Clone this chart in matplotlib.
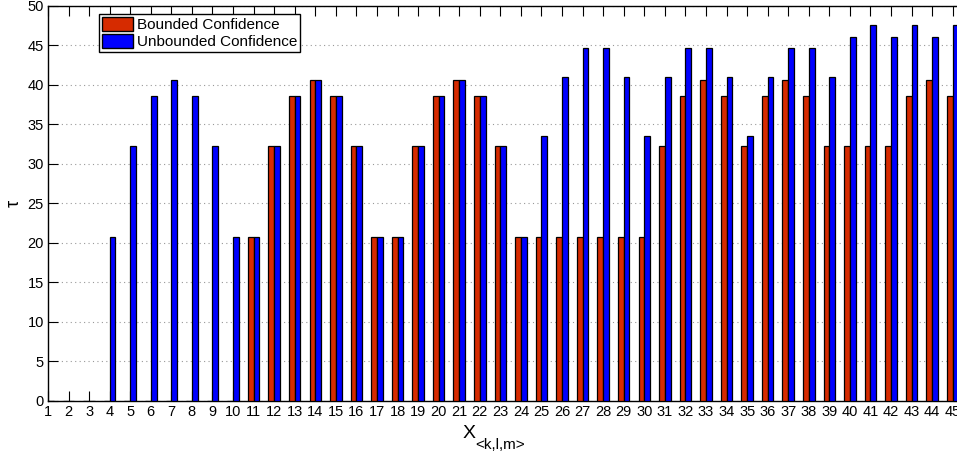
import numpy as np
import matplotlib
matplotlib.use("Agg")
import matplotlib.pyplot as plt

plt.rcParams["font.family"] = ["Liberation Sans", "DejaVu Sans"]

# Data
groups = list(range(1, 46))
bounded = [0, 0, 0, 0, 0, 0, 0, 0, 0, 0,
           20.7, 32.3, 38.6, 40.6, 38.6, 32.3, 20.7, 20.7, 32.3, 38.6,
           40.6, 38.6, 32.3, 20.7, 20.7, 20.7, 20.7, 20.7, 20.7, 20.7,
           32.3, 38.6, 40.6, 38.6, 32.3, 38.6, 40.6, 38.6, 32.3, 32.3,
           32.3, 32.3, 38.6, 40.6, 38.6]
unbounded = [0, 0, 0, 20.7, 32.3, 38.6, 40.6, 38.6, 32.3, 20.7,
             20.7, 32.3, 38.6, 40.6, 38.6, 32.3, 20.7, 20.7, 32.3, 38.6,
             40.6, 38.6, 32.3, 20.7, 33.5, 41.0, 44.7, 44.7, 41.0, 33.5,
             41.0, 44.7, 44.7, 41.0, 33.5, 41.0, 44.7, 44.7, 41.0, 46.0,
             47.6, 46.0, 47.6, 46.0, 47.6]
series_labels = ["Bounded Confidence", "Unbounded Confidence"]

W, H = 957, 458
fig = plt.figure(figsize=(W / 100, H / 100), dpi=100)
# axes runs past the right edge of the figure like in the reference
left, right_px = 48, 963
top, bottom = 5.9, 400.5
ax = fig.add_axes([left / W, (H - bottom) / H, (right_px - left) / W, (bottom - top) / H])

x = np.array(groups)
bw = 0.28
ax.bar(x - bw / 2, bounded, bw, color="#d62b00", edgecolor="black", linewidth=0.9,
       label=series_labels[0], zorder=3)
ax.bar(x + bw / 2, unbounded, bw, color="#0000ff", edgecolor="black", linewidth=0.9,
       label=series_labels[1], zorder=3)

ax.set_xlim(1, 45.5)
ax.set_ylim(0, 50)
ax.set_xticks(groups)
ax.set_yticks(range(0, 51, 5))
ax.tick_params(direction="in", length=7, width=0.8, labelsize=10.5, top=True, right=True,
               pad=3)
ax.grid(axis="y", linestyle=(0, (1, 3)), color="#999999", linewidth=0.8, zorder=0)
for s in ax.spines.values():
    s.set_linewidth(1.0)

# x label: "X" with a plain-text subscript (no math spacing)
fig.text(463 / W, 1 - 433 / H, "X", fontsize=14, ha="left", va="center")
fig.text(475 / W, 1 - 445 / H, "<k,l,m>", fontsize=11, ha="left", va="center")
# y label placed in figure coords so it is not clipped
fig.text(14 / W, 1 - 203 / H, "τ", fontsize=13, rotation=90, ha="center", va="center")

leg = ax.legend(loc="upper left", bbox_to_anchor=(0.056, 0.979), fontsize=11,
                frameon=True, fancybox=False, edgecolor="black", framealpha=1,
                handlelength=2.0, handleheight=1.0, handletextpad=0.25,
                borderpad=0.2, labelspacing=0.1, borderaxespad=0)
leg.get_frame().set_linewidth(1.0)
for p in leg.get_patches():
    p.set_linewidth(1.0)

fig.savefig("out.png", dpi=100)
